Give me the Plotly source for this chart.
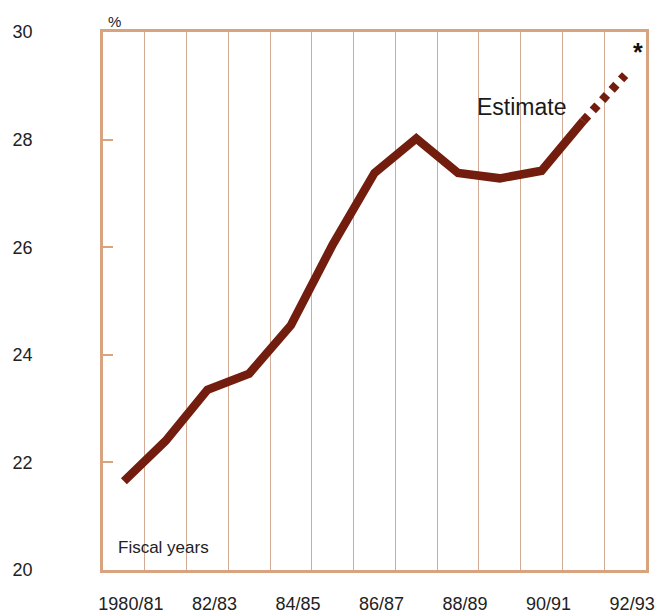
import plotly.graph_objects as go

# Fiscal years and the share (%) plotted for each
years = ["1980/81", "81/82", "82/83", "83/84", "84/85", "85/86", "86/87",
         "87/88", "88/89", "89/90", "90/91", "91/92", "92/93"]
share = [21.65, 22.4, 23.35, 23.65, 24.55, 26.05, 27.38,
         28.02, 27.38, 27.28, 27.42, 28.35, 29.2]
# Last year is an estimate, drawn dotted from the final actual year
actual_count = 12

tick_years = ["1980/81", "82/83", "84/85", "86/87", "88/89", "90/91", "92/93"]
y_ticks = [20, 22, 24, 26, 28, 30]

FRAME = "#d8a47f"
GRID = "#d3aa93"
LINE = "#731d0f"
FONT = "Liberation Sans, Arial, sans-serif"

x_idx = list(range(len(years)))

fig = go.Figure()
fig.add_trace(go.Scatter(
    x=x_idx[:actual_count], y=share[:actual_count],
    mode="lines", line=dict(color=LINE, width=8.5),
    hoverinfo="skip", showlegend=False,
))
fig.add_trace(go.Scatter(
    x=x_idx[actual_count - 1:], y=share[actual_count - 1:],
    mode="lines", line=dict(color=LINE, width=8.5, dash="7px,7px"),
    hoverinfo="skip", showlegend=False,
))

fig.update_layout(
    width=655, height=615,
    margin=dict(l=103, r=1, t=32, b=40),
    paper_bgcolor="white", plot_bgcolor="white",
    font=dict(family=FONT, color="#222222"),
    xaxis=dict(
        range=[-0.5, len(years) - 0.5],
        tickmode="array",
        tickvals=[years.index(t) for t in tick_years],
        ticktext=tick_years,
        showgrid=False, zeroline=False,
        ticks="", tickfont=dict(size=18, color="#222222"),
        ticklabelstandoff=16, ticklabelshift=7,
        ticklabeloverflow="allow",
        showline=True, linecolor=FRAME, linewidth=2.5, mirror=True,
        minor=dict(tickmode="linear", tick0=0.5, dtick=1,
                   showgrid=True, gridcolor=GRID, gridwidth=1.3, ticks=""),
    ),
    yaxis=dict(
        range=[20, 30],
        tickmode="array", tickvals=y_ticks,
        showgrid=False, zeroline=False,
        ticks="inside", ticklen=10, tickwidth=2, tickcolor=FRAME,
        tickfont=dict(size=18, color="#222222"),
        ticklabelstandoff=64,
        showline=True, linecolor=FRAME, linewidth=2.5, mirror=True,
    ),
    annotations=[
        dict(text="%", x=0, y=1, xref="paper", yref="paper",
             xanchor="left", yanchor="bottom", xshift=3, yshift=0,
             showarrow=False, font=dict(size=15, color="#222222")),
        dict(text="Estimate", x=8.41, y=28.6, xref="x", yref="y",
             xanchor="left", yanchor="middle",
             showarrow=False, font=dict(size=23, color="#1a1a1a")),
        dict(text="<b>*</b>", x=12.32, y=29.62, xref="x", yref="y",
             xanchor="center", yanchor="middle",
             showarrow=False, font=dict(size=25, color="#111111")),
        dict(text="Fiscal years", x=0, y=20.42, xref="paper", yref="y",
             xanchor="left", yanchor="middle", xshift=13,
             showarrow=False, font=dict(size=17, color="#222222")),
    ],
)

fig.write_html("out.html")
